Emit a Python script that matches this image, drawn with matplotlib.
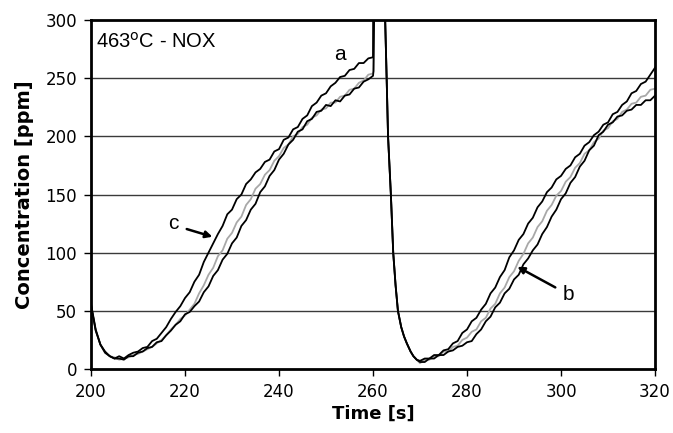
import matplotlib
matplotlib.use("Agg")
import matplotlib.pyplot as plt

plt.rcParams['font.family'] = ['DejaVu Sans']

# time axis [s]
time_s = (list(range(200, 261))
          + [260.1, 260.6, 262.4, 262.9, 263.2, 263.8, 264.3, 264.8, 265.3,
             266.0, 266.6, 267.2, 268.0, 268.6, 269.3]
          + list(range(270, 321)))

# leading black curve (labelled a / c)
black_lead = [56, 34, 21, 14, 11, 9, 11, 9, 12, 14, 15, 18, 19, 24, 26, 31, 36, 43, 49, 54,
              61, 66, 75, 81, 92, 100, 108, 116, 123, 133, 137, 146, 150, 159, 163, 169, 172, 178, 180, 187,
              189, 197, 199, 206, 208, 215, 218, 226, 229, 235, 237, 243, 246, 251, 252, 257, 258, 263, 263, 267,
              268,
              420, 420, 330, 250, 200, 150, 100, 72, 50, 36, 28, 22, 15, 11, 8,
              7, 9, 9, 12, 12, 16, 17, 22, 24, 31, 34, 41, 44, 51, 56, 65, 70, 79, 85, 96,
              102, 111, 116, 125, 130, 139, 144, 152, 156, 163, 166, 172, 175, 182, 185, 192, 195, 201, 204, 210,
              212, 219, 221, 227, 230, 237, 239, 245, 247, 253, 259]

# gray curve (labelled b)
gray_mid = [55, 33, 21, 14, 11, 10, 8, 9, 10, 12, 13, 15, 17, 19, 22, 25, 29, 34, 38, 43,
            46, 51, 56, 65, 72, 81, 87, 97, 102, 112, 117, 126, 131, 141, 146, 155, 159, 167, 171, 179,
            183, 190, 193, 200, 202, 208, 210, 216, 218, 223, 224, 229, 229, 234, 235, 240, 241, 246, 248, 253,
            254,
            256, 420, 330, 250, 200, 150, 100, 72, 50, 36, 28, 22, 15, 11, 8,
            5, 8, 8, 11, 11, 15, 15, 19, 20, 25, 27, 32, 34, 41, 44, 52, 56, 65, 70, 79,
            84, 93, 99, 108, 113, 122, 127, 136, 141, 149, 153, 161, 165, 173, 177, 185, 188, 195, 198, 205,
            207, 213, 215, 221, 223, 228, 229, 234, 235, 240, 241]

# lagging black curve
black_lag = [55, 33, 21, 15, 11, 9, 9, 8, 11, 11, 14, 15, 18, 19, 23, 24, 29, 33, 38, 41,
             47, 49, 54, 58, 66, 71, 80, 85, 94, 99, 108, 113, 123, 128, 137, 142, 152, 157, 166, 171,
             180, 185, 193, 197, 204, 206, 213, 215, 221, 222, 227, 226, 231, 230, 235, 236, 241, 242, 247, 249,
             252,
             256, 420, 330, 250, 200, 150, 100, 72, 50, 36, 28, 22, 15, 11, 8,
             6, 6, 9, 9, 12, 12, 15, 16, 19, 20, 23, 24, 30, 34, 41, 45, 53, 57, 65, 69,
             77, 81, 90, 95, 102, 107, 116, 122, 131, 137, 146, 151, 160, 165, 174, 179, 188, 192, 201, 204,
             210, 212, 217, 218, 222, 223, 227, 227, 231, 231, 235]

x_ticks = [200, 220, 240, 260, 280, 300, 320]
y_ticks = [0, 50, 100, 150, 200, 250, 300]

fig = plt.figure(figsize=(6.73, 4.33), dpi=100)
ax = fig.add_axes([0.1352, 0.1478, 0.8381, 0.806])

for y in y_ticks[1:-1]:
    ax.axhline(y, color='#3a3a3a', lw=1.0, zorder=1)

ax.plot(time_s, gray_mid, color='#a8a8a8', lw=1.3, zorder=2)
ax.plot(time_s, black_lag, color='black', lw=1.3, zorder=3)
ax.plot(time_s, black_lead, color='black', lw=1.3, zorder=4)

ax.set_xlim(200, 320)
ax.set_ylim(0, 300)
ax.set_xticks(x_ticks)
ax.set_yticks(y_ticks)
ax.tick_params(axis='both', direction='out', length=5, width=1, labelsize=12, pad=5)
for s in ax.spines.values():
    s.set_linewidth(2)
    s.set_color('black')

ax.set_xlabel('Time [s]', fontsize=13, fontweight='bold', labelpad=3)
ax.set_ylabel('Concentration [ppm]', fontsize=14, fontweight='bold', labelpad=8)

lab_font = ['Liberation Sans', 'DejaVu Sans']
ax.text(201.0, 281, '463$^{\\rm o}$C - NOX', fontsize=14.5, va='center', ha='left', family=lab_font)
ax.text(253, 270, 'a', fontsize=15, ha='center', va='center', family=lab_font)
ax.text(217.5, 125, 'c', fontsize=15, ha='center', va='center', family=lab_font)
ax.annotate('', xy=(226.4, 113), xytext=(219.8, 121),
            arrowprops=dict(arrowstyle='-|>', color='black', lw=1.8, mutation_scale=10))
ax.text(301.5, 64, 'b', fontsize=15, ha='center', va='center', family=lab_font)
ax.annotate('', xy=(290.2, 89), xytext=(299.3, 69),
            arrowprops=dict(arrowstyle='-|>', color='black', lw=1.8, mutation_scale=10))

fig.savefig('out.png', dpi=100)
